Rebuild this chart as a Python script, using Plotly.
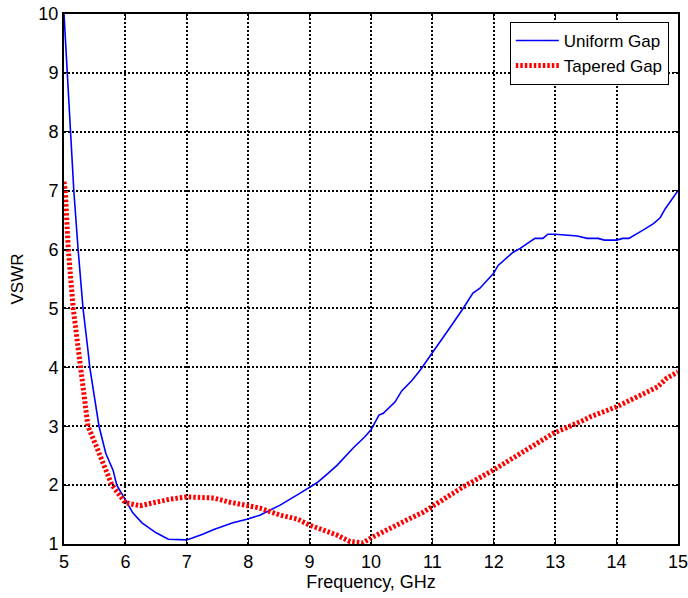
import plotly.graph_objects as go

# Uniform gap antenna: frequency (GHz) and VSWR
uniform_freq = [5.0, 5.05, 5.1, 5.16, 5.23, 5.31, 5.39, 5.42, 5.57, 5.68, 5.8, 5.86,
                6.0, 6.12, 6.27, 6.5, 6.7, 7.0, 7.27, 7.43, 7.75, 7.98, 8.19, 8.52,
                8.84, 9.0, 9.12, 9.3, 9.45, 9.71, 9.9, 10.0, 10.13, 10.2, 10.39, 10.5,
                10.67, 10.8, 11.0, 11.29, 11.5, 11.66, 11.77, 12.0, 12.07, 12.31, 12.43,
                12.67, 12.8, 12.88, 13.0, 13.36, 13.52, 13.7, 13.8, 14.0, 14.1, 14.2,
                14.43, 14.6, 14.71, 14.79, 15.0]
uniform_vswr = [10.0, 9.0, 8.0, 7.0, 6.0, 5.0, 4.29, 4.0, 3.0, 2.54, 2.25, 2.0,
                1.75, 1.53, 1.36, 1.19, 1.08, 1.07, 1.17, 1.24, 1.36, 1.42, 1.49, 1.66,
                1.86, 1.97, 2.04, 2.2, 2.34, 2.63, 2.82, 2.94, 3.19, 3.22, 3.41, 3.6,
                3.78, 3.95, 4.24, 4.68, 5.0, 5.26, 5.34, 5.6, 5.73, 5.95, 6.02,
                6.19, 6.19, 6.26, 6.26, 6.23, 6.19, 6.19, 6.16, 6.16, 6.19, 6.19,
                6.33, 6.44, 6.54, 6.69, 7.0]

# Tapered gap antenna: frequency (GHz) and VSWR
tapered_freq = [5.0, 5.02, 5.07, 5.15, 5.27, 5.39, 5.53, 5.67, 5.78, 6.0, 6.24, 6.5,
                6.72, 7.0, 7.44, 7.7, 8.0, 8.19, 8.52, 8.81, 9.0, 9.22, 9.45, 9.66,
                9.87, 10.03, 10.3, 10.59, 10.85, 11.07, 11.5, 12.0, 12.54, 12.97, 13.46,
                13.57, 14.0, 14.34, 14.67, 14.82, 15.0]
tapered_vswr = [7.15, 7.0, 6.0, 5.0, 4.0, 3.0, 2.65, 2.26, 2.0, 1.7, 1.65, 1.71,
                1.76, 1.8, 1.78, 1.71, 1.66, 1.61, 1.49, 1.42, 1.32, 1.24, 1.15, 1.04,
                1.02, 1.12, 1.27, 1.41, 1.54, 1.69, 1.97, 2.26, 2.6, 2.88, 3.1,
                3.16, 3.33, 3.5, 3.67, 3.82, 3.92]

x_ticks = [5, 6, 7, 8, 9, 10, 11, 12, 13, 14, 15]
y_ticks = [1, 2, 3, 4, 5, 6, 7, 8, 9, 10]

FONT = "Liberation Sans, Arial, sans-serif"

fig = go.Figure()
fig.add_trace(go.Scatter(
    x=uniform_freq, y=uniform_vswr, mode="lines", name="Uniform Gap",
    line=dict(color="#0000ff", width=1.6),
))
fig.add_trace(go.Scatter(
    x=tapered_freq, y=tapered_vswr, mode="lines", name="Tapered Gap",
    line=dict(color="#ff0000", width=5, dash="2.5px,2px"),
))

axis_common = dict(
    showline=True, linecolor="black", linewidth=2, mirror="all",
    showgrid=True, gridcolor="black", gridwidth=2, griddash="2px,2px",
    zeroline=False, ticks="inside", ticklen=5, tickcolor="black", tickwidth=1,
    tickfont=dict(family=FONT, size=18, color="black"),
    automargin=False, ticklabeloverflow="allow",
)

fig.update_xaxes(
    range=[5, 15], tickvals=x_ticks, ticktext=[str(v) for v in x_ticks],
    title=dict(text="Frequency, GHz", font=dict(family=FONT, size=18, color="black"),
               standoff=2),
    **axis_common,
)
fig.update_yaxes(
    range=[1, 10], tickvals=y_ticks, ticktext=[str(v) for v in y_ticks],
    title=dict(text="VSWR", font=dict(family=FONT, size=17, color="black"),
               standoff=10),
    **axis_common,
)

fig.update_layout(
    width=688, height=598,
    margin=dict(l=64, r=10, t=14, b=54),
    paper_bgcolor="white", plot_bgcolor="white",
    font=dict(family=FONT, size=17, color="black"),
    showlegend=True,
    legend=dict(
        x=0.985, y=0.985, xanchor="right", yanchor="top",
        bgcolor="white", bordercolor="black", borderwidth=1,
        font=dict(family=FONT, size=17, color="black"),
        tracegroupgap=0, itemwidth=43,
    ),
)

fig.write_html("out.html")
